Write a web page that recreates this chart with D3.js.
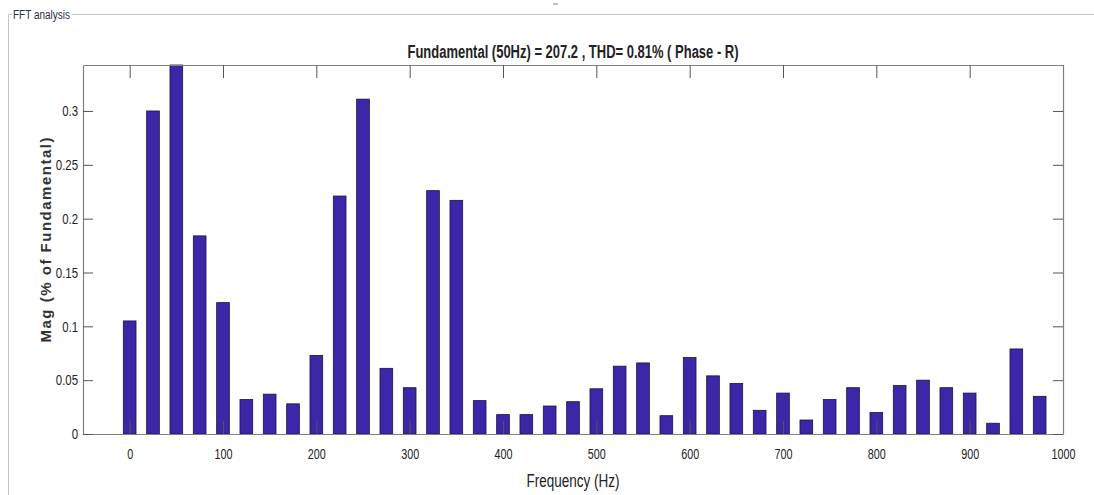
<!DOCTYPE html>
<html><head><meta charset="utf-8">
<script src="https://cdn.jsdelivr.net/npm/d3@7"></script>
<style>
html,body{margin:0;padding:0;background:#fff;}
svg{display:block;}
</style></head>
<body>
<svg id="chart" width="1094" height="495"></svg>
<script>
const frequencies = [0,25,50,75,100,125,150,175,200,225,250,275,300,325,350,375,400,425,450,475,500,525,550,575,600,625,650,675,700,725,750,775,800,825,850,875,900,925,950,975];
const magnitudes = [0.105,0.300,0.343,0.184,0.122,0.032,0.037,0.028,0.073,0.221,0.311,0.061,0.043,0.226,0.217,0.031,0.018,0.018,0.026,0.030,0.042,0.063,0.066,0.017,0.071,0.054,0.047,0.022,0.038,0.013,0.032,0.043,0.020,0.045,0.050,0.043,0.038,0.010,0.079,0.035];
const xTicks = [0,100,200,300,400,500,600,700,800,900,1000];
const yTicks = [0,0.05,0.1,0.15,0.2,0.25,0.3];
const titleText = "Fundamental (50Hz) = 207.2 , THD= 0.81% ( Phase - R)";
const xLabel = "Frequency (Hz)";
const yLabel = "Mag (% of Fundamental)";
const panelLabel = "FFT analysis";

const svg = d3.select("#chart");
const L = 83, R = 1063, T = 65, B = 434;
const x = d3.scaleLinear().domain([-50, 1000]).range([L, R]);
const y = d3.scaleLinear().domain([0, 0.3427]).range([B, T]);
const font = "'Liberation Sans',Arial,sans-serif";

function condense(sel, factor) {
  sel.each(function() {
    const len = this.getComputedTextLength();
    d3.select(this).attr("textLength", len * factor).attr("lengthAdjust", "spacingAndGlyphs");
  });
}

// panel frame
svg.append("path").attr("d", "M8.5,495 V14.5 H12").attr("fill","none").attr("stroke","#c4c4c4");
svg.append("path").attr("d", "M72,14.5 H1094").attr("fill","none").attr("stroke","#c4c4c4");
svg.append("text").attr("x", 13).attr("y", 19).text(panelLabel)
  .attr("font-family", font).attr("font-size", 12).attr("fill", "#2a2f45")
  .attr("textLength", 57).attr("lengthAdjust", "spacingAndGlyphs");
svg.append("rect").attr("x", 553).attr("y", 3).attr("width", 5).attr("height", 2).attr("fill", "#a9c4e6");

// bars
const bw = 12.7;
svg.append("g").selectAll("rect").data(frequencies).join("rect")
  .attr("x", (d) => x(d) - bw/2)
  .attr("y", (d,i) => y(Math.min(magnitudes[i], 0.3427)))
  .attr("width", bw)
  .attr("height", (d,i) => B - y(Math.min(magnitudes[i], 0.3427)))
  .attr("fill", "#3e26a8").attr("stroke", "#1a1246").attr("stroke-width", 0.8);

// axes (MATLAB-style box with inward ticks)
const axisColor = "#808080";
const gx = svg.append("g").attr("transform", `translate(0,${B})`)
  .call(d3.axisBottom(x).tickValues(xTicks).tickFormat(d3.format("d")).tickSizeInner(-13).tickSizeOuter(0).tickPadding(14));
const gxt = svg.append("g").attr("transform", `translate(0,${T})`)
  .call(d3.axisTop(x).tickValues(xTicks).tickFormat("").tickSizeInner(-13).tickSizeOuter(0));
const gy = svg.append("g").attr("transform", `translate(${L},0)`)
  .call(d3.axisLeft(y).tickValues(yTicks).tickFormat(d => d === 0 ? "0" : String(+d.toFixed(2))).tickSizeInner(-10).tickSizeOuter(0).tickPadding(5));
const gyr = svg.append("g").attr("transform", `translate(${R},0)`)
  .call(d3.axisRight(y).tickValues(yTicks).tickFormat("").tickSizeInner(-10).tickSizeOuter(0));
[gx, gxt, gy, gyr].forEach(g => {
  g.selectAll("path.domain").attr("stroke", axisColor).attr("stroke-width", 1.2);
  g.selectAll(".tick line").attr("stroke", "#555");
  g.selectAll(".tick text").attr("font-family", font).attr("font-size", 15).attr("fill", "#222");
});
gx.selectAll(".tick text").attr("dy", "0.71em");
condense(gx.selectAll(".tick text"), 0.72);
condense(gy.selectAll(".tick text"), 0.76);

// titles
svg.append("text").attr("x", (L+R)/2).attr("y", 58).attr("text-anchor", "middle")
  .attr("font-family", font).attr("font-size", 18).attr("font-weight", "bold").attr("fill", "#222").text(titleText)
  .attr("textLength", 331).attr("lengthAdjust", "spacingAndGlyphs");
svg.append("text").attr("x", 573).attr("y", 487).attr("text-anchor", "middle")
  .attr("font-family", font).attr("font-size", 18).attr("fill", "#222").text(xLabel)
  .attr("textLength", 93).attr("lengthAdjust", "spacingAndGlyphs");
svg.append("text").attr("transform", "translate(51,240) rotate(-90)").attr("text-anchor", "middle")
  .attr("font-family", font).attr("font-weight", "bold").attr("font-size", 15)
  .attr("fill", "#333").text(yLabel)
  .attr("textLength", 205).attr("lengthAdjust", "spacing");
</script>
</body></html>
